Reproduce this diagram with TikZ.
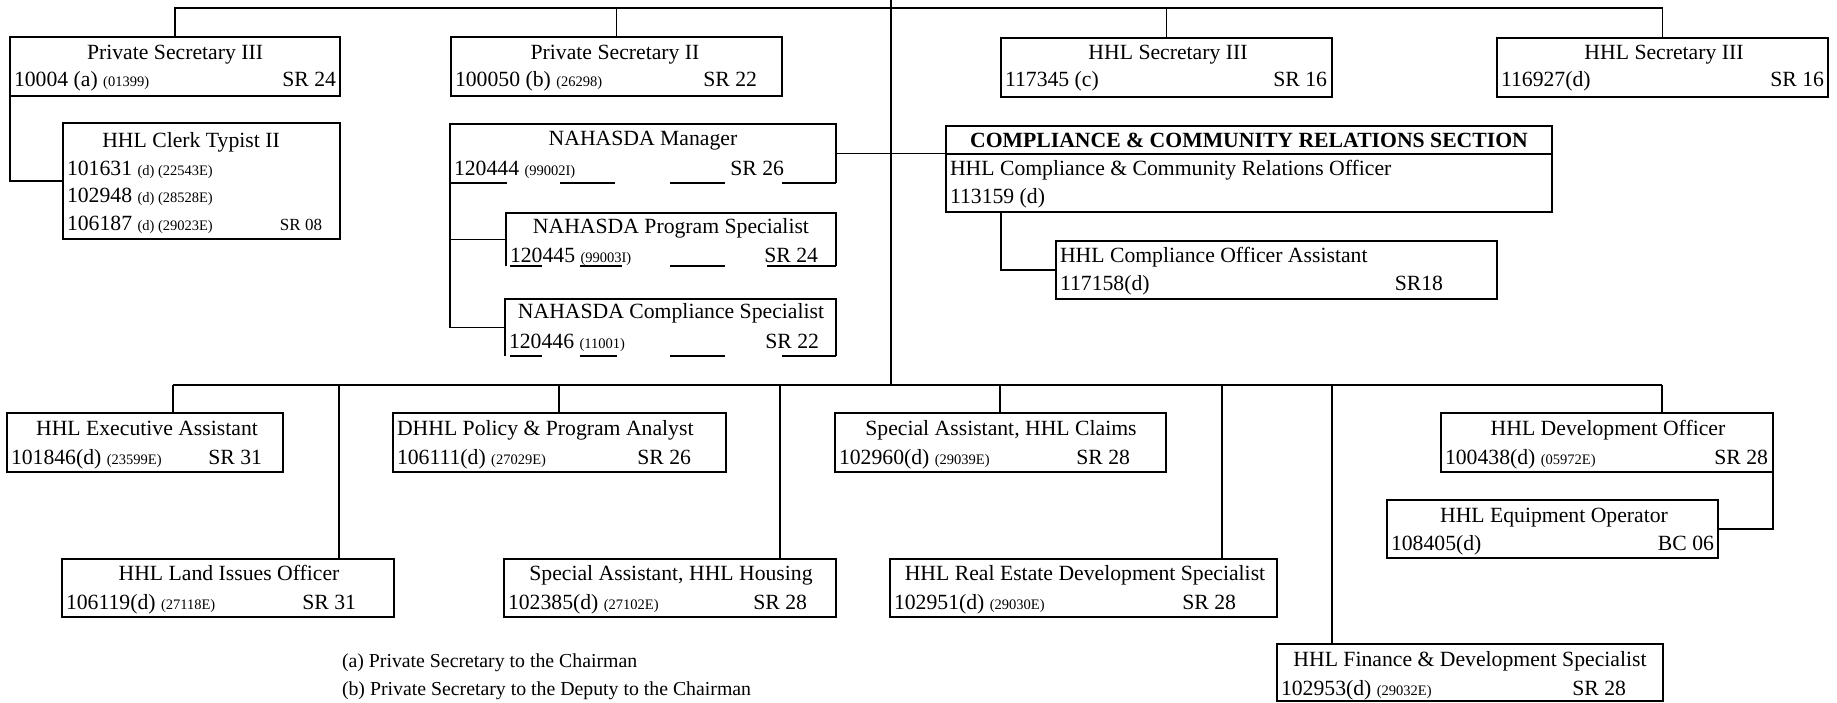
\documentclass[tikz,border=0pt]{standalone}
\usepackage{fontspec}
\setmainfont{Liberation Serif}
\newcommand\sm[1]{{\fontsize{14.5}{17}\selectfont #1}}
\begin{document}
\begin{tikzpicture}[x=1pt,y=-1pt,
  box/.style={draw, line width=1.5pt, rectangle, inner sep=0pt, outer sep=0pt, anchor=north west},
  ln/.style={line width=1.5pt},
  tt/.style={inner sep=0pt, outer sep=0pt, font=\fontsize{21.7}{26}\selectfont},
  tb/.style={tt, font=\fontsize{21.7}{26}\selectfont\bfseries},
  tn/.style={inner sep=0pt, outer sep=0pt, font=\fontsize{19.8}{24}\selectfont},
  ts/.style={inner sep=0pt, outer sep=0pt, font=\fontsize{17}{20}\selectfont}]
\fill[white] (0,0) rectangle (1837,702);
\useasboundingbox (0,0) rectangle (1837,702);

% ---- top row boxes
\node[box, minimum width=330pt, minimum height=59pt] (ps3) at (10,37) {};
\node[tt, anchor=base] (ps3t) at (175,59) {Private Secretary III};
\node[tt, anchor=base west] (ps3l) at (14,86) {10004 (a) \sm{(01399)}};
\node[tt, anchor=base east] (ps3r) at (336,86) {SR 24};

\node[box, minimum width=331pt, minimum height=59pt] (ps2) at (451,37) {};
\node[tt, anchor=base] (ps2t) at (615,59) {Private Secretary II};
\node[tt, anchor=base west] (ps2l) at (455,86) {100050 (b) \sm{(26298)}};
\node[tt, anchor=base east] (ps2r) at (757,86) {SR 22};

\node[box, minimum width=331pt, minimum height=59pt] (hsc) at (1001,38) {};
\node[tt, anchor=base] (hsct) at (1168,59) {HHL Secretary III};
\node[tt, anchor=base west] (hscl) at (1005,86) {117345 (c)};
\node[tt, anchor=base east] (hscr) at (1327,86) {SR 16};

\node[box, minimum width=331pt, minimum height=59pt] (hsd) at (1497,38) {};
\node[tt, anchor=base] (hsdt) at (1664,59) {HHL Secretary III};
\node[tt, anchor=base west] (hsdl) at (1501,86) {116927(d)};
\node[tt, anchor=base east] (hsdr) at (1824,86) {SR 16};

% ---- clerk typist
\node[box, minimum width=277pt, minimum height=116pt] (clk) at (63,123) {};
\node[tt, anchor=base] (clkt) at (191,147) {HHL Clerk Typist II};
\node[tt, anchor=base west] (clk1) at (67,175) {101631 \sm{(d) (22543E)}};
\node[tt, anchor=base west] (clk2) at (67,202) {102948 \sm{(d) (28528E)}};
\node[tt, anchor=base west] (clk3) at (67,230) {106187 \sm{(d) (29023E)}};
\node[ts, anchor=base east] (clkr) at (322,230) {SR 08};

% ---- NAHASDA group
\node[box, draw=none, minimum width=386pt, minimum height=59pt] (mgr) at (450,124) {};
\draw[ln] (mgr.south west) -- (mgr.north west) -- (mgr.north east) -- (mgr.south east);
\draw[ln] (mgr.south west) -- ++(57,0);
\draw[ln] ([xshift=110pt]mgr.south west) -- ++(55,0);
\draw[ln] ([xshift=220pt]mgr.south west) -- ++(55,0);
\draw[ln] ([xshift=332pt]mgr.south west) -- (mgr.south east);
\node[tt, anchor=base] (mgrt) at (643,145) {NAHASDA Manager};
\node[tt, anchor=base west] (mgrl) at (454,175) {120444 \sm{(99002I)}};
\node[tt, anchor=base east] (mgrr) at (784,175) {SR 26};

\node[box, draw=none, minimum width=330pt, minimum height=53pt] (psp) at (506,213) {};
\draw[ln] (psp.south west) -- (psp.north west) -- (psp.north east) -- (psp.south east);
\draw[ln] ([xshift=4pt]psp.south west) -- ++(32,0);
\draw[ln] ([xshift=74pt]psp.south west) -- ++(42,0);
\draw[ln] ([xshift=164pt]psp.south west) -- ++(55,0);
\draw[ln] ([xshift=261pt]psp.south west) -- (psp.south east);
\node[tt, anchor=base] (pspt) at (671,233) {NAHASDA Program Specialist};
\node[tt, anchor=base west] (pspl) at (510,262) {120445 \sm{(99003I)}};
\node[tt, anchor=base east] (pspr) at (818,262) {SR 24};

\node[box, draw=none, minimum width=331pt, minimum height=57pt] (csp) at (505,299) {};
\draw[ln] (csp.south west) -- (csp.north west) -- (csp.north east) -- (csp.south east);
\draw[ln] ([xshift=5pt]csp.south west) -- ++(32,0);
\draw[ln] ([xshift=75pt]csp.south west) -- ++(37,0);
\draw[ln] ([xshift=165pt]csp.south west) -- ++(55,0);
\draw[ln] ([xshift=277pt]csp.south west) -- (csp.south east);
\node[tt, anchor=base] (cspt) at (671,318) {NAHASDA Compliance Specialist};
\node[tt, anchor=base west] (cspl) at (509,348) {120446 \sm{(11001)}};
\node[tt, anchor=base east] (cspr) at (819,348) {SR 22};

% ---- compliance section
\node[box, minimum width=606pt, minimum height=86pt] (ccr) at (946,126) {};
\draw[ln] ([yshift=-28pt]ccr.north west) -- ([yshift=-28pt]ccr.north east);
\node[tb, anchor=base] (ccrh) at (1249,147) {COMPLIANCE \& COMMUNITY RELATIONS SECTION};
\node[tt, anchor=base west] (ccr1) at (950,175) {HHL Compliance \& Community Relations Officer};
\node[tt, anchor=base west] (ccr2) at (950,203) {113159 (d)};

\node[box, minimum width=441pt, minimum height=58pt] (ast) at (1056,241) {};
\node[tt, anchor=base west] (ast1) at (1060,262) {HHL Compliance Officer Assistant};
\node[tt, anchor=base west] (ast2) at (1060,290) {117158(d)};
\node[tt, anchor=base east] (astr) at (1443,290) {SR18};

% ---- bottom row A
\node[box, minimum width=276pt, minimum height=59pt] (exe) at (7,413) {};
\node[tt, anchor=base] (exet) at (147,435) {HHL Executive Assistant};
\node[tt, anchor=base west] (exel) at (11,464) {101846(d) \sm{(23599E)}};
\node[tt, anchor=base east] (exer) at (262,464) {SR 31};

\node[box, minimum width=333pt, minimum height=59pt] (pol) at (393,413) {};
\node[tt, anchor=base west] (polt) at (397,435) {DHHL Policy \& Program Analyst};
\node[tt, anchor=base west] (poll) at (397,464) {106111(d) \sm{(27029E)}};
\node[tt, anchor=base east] (polr) at (691,464) {SR 26};

\node[box, minimum width=331pt, minimum height=59pt] (clm) at (835,413) {};
\node[tt, anchor=base] (clmt) at (1001,435) {Special Assistant, HHL Claims};
\node[tt, anchor=base west] (clml) at (839,464) {102960(d) \sm{(29039E)}};
\node[tt, anchor=base east] (clmr) at (1130,464) {SR 28};

\node[box, minimum width=332pt, minimum height=59pt] (dev) at (1441,413) {};
\node[tt, anchor=base] (devt) at (1608,435) {HHL Development Officer};
\node[tt, anchor=base west] (devl) at (1445,464) {100438(d) \sm{(05972E)}};
\node[tt, anchor=base east] (devr) at (1768,464) {SR 28};

\node[box, minimum width=331pt, minimum height=58pt] (eqp) at (1387,500) {};
\node[tt, anchor=base] (eqpt) at (1554,522) {HHL Equipment Operator};
\node[tt, anchor=base west] (eqpl) at (1391,550) {108405(d)};
\node[tt, anchor=base east] (eqpr) at (1714,550) {BC 06};

% ---- bottom row B
\node[box, minimum width=332pt, minimum height=58pt] (lnd) at (62,559) {};
\node[tt, anchor=base] (lndt) at (229,580) {HHL Land Issues Officer};
\node[tt, anchor=base west] (lndl) at (66,609) {106119(d) \sm{(27118E)}};
\node[tt, anchor=base east] (lndr) at (356,609) {SR 31};

\node[box, minimum width=332pt, minimum height=58pt] (hou) at (504,559) {};
\node[tt, anchor=base] (hout) at (671,580) {Special Assistant, HHL Housing};
\node[tt, anchor=base west] (houl) at (508,609) {102385(d) \sm{(27102E)}};
\node[tt, anchor=base east] (hour) at (807,609) {SR 28};

\node[box, minimum width=387pt, minimum height=58pt] (res) at (890,559) {};
\node[tt, anchor=base] (rest) at (1085,580) {HHL Real Estate Development Specialist};
\node[tt, anchor=base west] (resl) at (894,609) {102951(d) \sm{(29030E)}};
\node[tt, anchor=base east] (resr) at (1236,609) {SR 28};

\node[box, minimum width=386pt, minimum height=57pt] (fin) at (1277,644) {};
\node[tt, anchor=base] (fint) at (1470,666) {HHL Finance \& Development Specialist};
\node[tt, anchor=base west] (finl) at (1281,695) {102953(d) \sm{(29032E)}};
\node[tt, anchor=base east] (finr) at (1626,695) {SR 28};

% ---- footnotes
\node[tn, anchor=base west] (fna) at (342,667) {(a) Private Secretary to the Chairman};
\node[tn, anchor=base west] (fnb) at (342,695) {(b) Private Secretary to the Deputy to the Chairman};

% ---- connectors
\coordinate (ttop) at (891,0);
\coordinate (tl) at (174,8);
\coordinate (bus) at (891,385);
\draw[ln] (ttop) -- (bus);
\draw[ln] (ps3.north) -- (ps3.north |- tl) -- (hsd.north |- tl) -- (hsd.north);
\draw[ln] (ps2.north) -- (ps2.north |- tl);
\draw[ln] (hsc.north) -- (hsc.north |- tl);
\draw[ln] (ps3.south west) |- (clk.west);
\draw[ln] (mgr.south west) |- (csp.west);
\draw[ln] (mgr.south west |- psp.west) -- (psp.west);
\draw[ln] (mgr.east) -- (ccr.west |- mgr.east);
\draw[ln] ([xshift=55pt]ccr.south west) |- (ast.west);
\draw[ln] (dev.south east) |- (eqp.east);

\coordinate (d1) at (173,385);
\coordinate (d2) at (339,385);
\coordinate (d3) at (559,385);
\coordinate (d4) at (780,385);
\coordinate (d5) at (1000,385);
\coordinate (d6) at (1222,385);
\coordinate (d7) at (1332,385);
\coordinate (d8) at (1662,385);
\draw[ln] (d1) -- (d8);
\draw[ln] (d1) -- (d1 |- exe.north);
\draw[ln] (d2) -- (d2 |- lnd.north);
\draw[ln] (d3) -- (d3 |- pol.north);
\draw[ln] (d4) -- (d4 |- hou.north);
\draw[ln] (d5) -- (d5 |- clm.north);
\draw[ln] (d6) -- (d6 |- res.north);
\draw[ln] (d7) -- (d7 |- fin.north);
\draw[ln] (d8) -- (d8 |- dev.north);
\end{tikzpicture}
\end{document}
